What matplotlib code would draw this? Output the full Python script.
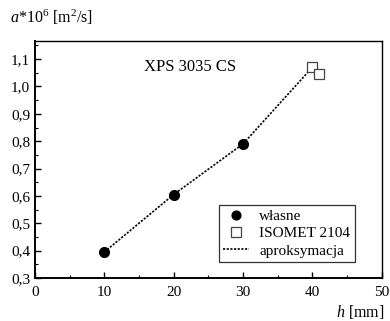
import matplotlib.pyplot as plt
import numpy as np
from matplotlib.ticker import FuncFormatter, MultipleLocator

# measured data (own method)
h_own = [10, 20, 30]
a_own = [0.395, 0.605, 0.79]

# ISOMET 2104 readings
h_iso = [40, 41]
a_iso = [1.07, 1.045]

# approximation line
h_fit = [10, 20, 30, 40]
a_fit = [0.395, 0.605, 0.79, 1.07]

plt.rcParams['font.family'] = 'Liberation Serif'
plt.rcParams['mathtext.fontset'] = 'custom'
plt.rcParams['mathtext.rm'] = 'Liberation Serif'
plt.rcParams['mathtext.it'] = 'Liberation Serif:italic'

fig = plt.figure(figsize=(3.9, 3.21), dpi=100)
ax = fig.add_axes([0.0897, 0.134, 0.889, 0.739])

ax.plot(h_fit, a_fit, linestyle=(0, (1.3, 0.9)), color='black', lw=1.2,
        label='aproksymacja', zorder=2)
ax.plot(h_own, a_own, 'o', color='black', markersize=7, label='własne', zorder=3)
ax.plot(h_iso, a_iso, 's', markerfacecolor='white', markeredgecolor='#444444',
        markeredgewidth=0.9, markersize=7.5, label='ISOMET 2104', zorder=3)

ax.set_xlim(0, 50)
ax.set_ylim(0.3, 1.167)
ax.xaxis.set_major_locator(MultipleLocator(10))
ax.xaxis.set_minor_locator(MultipleLocator(5))
ax.yaxis.set_major_locator(MultipleLocator(0.1))
ax.yaxis.set_minor_locator(MultipleLocator(0.05))
ax.yaxis.set_major_formatter(FuncFormatter(lambda v, p: ('%.1f' % v).replace('.', ',')))
ax.tick_params(which='both', direction='in', top=False, right=False, labelsize=11)
ax.tick_params(which='major', length=4, width=1.0)
ax.tick_params(which='minor', length=2, width=0.8)
ax.tick_params(axis='x', pad=6)

for s in ['left', 'bottom']:
    ax.spines[s].set_linewidth(1.4)
for s in ['top', 'right']:
    ax.spines[s].set_linewidth(1.0)

ax.text(22.3, 1.07, 'XPS 3035 CS', fontsize=12, ha='center', va='center')

fig.text(0.025, 0.945, r'$a$*10$^{6}$ [m$^{2}$/s]', fontsize=11.5, ha='left', va='center')
fig.text(0.985, 0.028, r'$h$ [mm]', fontsize=11.5, ha='right', va='center')

handles, labels = ax.get_legend_handles_labels()
order = [1, 2, 0]
leg = ax.legend([handles[i] for i in order], [labels[i] for i in order],
                loc='lower right', bbox_to_anchor=(0.922, 0.067), borderaxespad=0,
                fontsize=11, frameon=True, fancybox=False, edgecolor='black',
                handlelength=1.7, handletextpad=0.65, borderpad=0.3,
                labelspacing=0.22, markerscale=0.9)
leg.get_frame().set_linewidth(0.9)

fig.savefig('out.png', dpi=100)
